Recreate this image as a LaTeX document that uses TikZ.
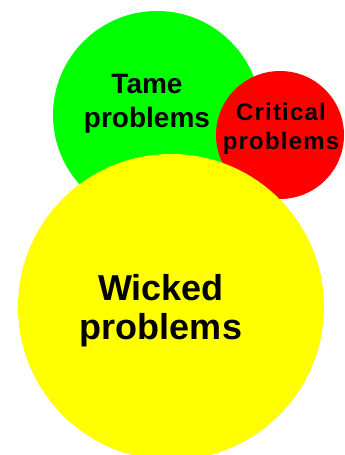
\documentclass[tikz,border=0pt]{standalone}
\usepackage{fontspec}
\setmainfont{Liberation Sans}
\newfontfamily\critfont{Liberation Sans}[LetterSpace=5]
\usepackage{tikz}
\definecolor{tamefill}{RGB}{0,255,0}
\definecolor{critfill}{RGB}{255,0,0}
\definecolor{wickfill}{RGB}{255,255,0}
\tikzset{
  blob/.style={circle, draw=none, inner sep=0pt},
  blobtext/.style={align=center, inner sep=0pt, font=\bfseries}
}

\begin{document}
\begin{tikzpicture}[x=1pt, y=-1pt]
  \useasboundingbox (0,0) rectangle (345,455);
  \node[blob, fill=tamefill, minimum size=208pt] (tame) at (157,115) {};
  \node[blob, fill=critfill, minimum size=128pt] (crit) at (280,135) {};
  \node[blob, fill=wickfill, minimum size=306pt] (wick) at (171,307) {};
  \node[blobtext, font=\bfseries\fontsize{28}{34}\selectfont] (tamelbl)
    at (147,104) {Tame\\problems};
  \node[blobtext, font=\critfont\bfseries\fontsize{24}{29}\selectfont] (critlbl)
    at (281,128.5) {Critical\\problems};
  \node[blobtext, font=\bfseries\fontsize{36}{39}\selectfont] (wicklbl)
    at (161,311) {Wicked\\problems};
\end{tikzpicture}
\end{document}
